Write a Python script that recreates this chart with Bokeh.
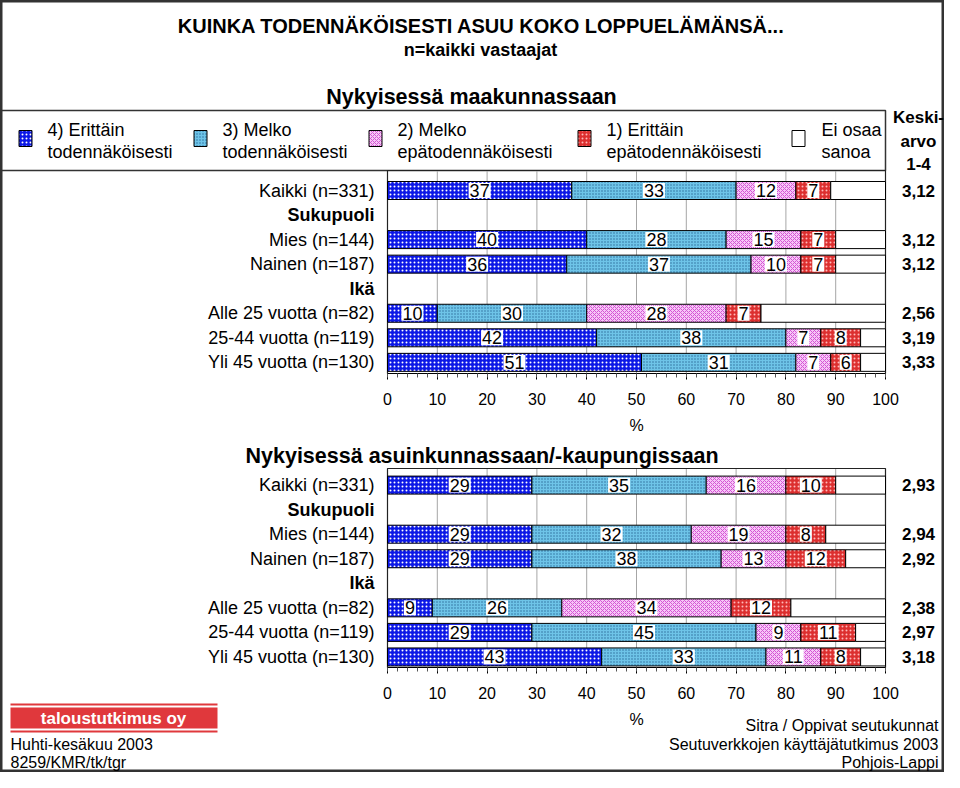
from bokeh.plotting import figure
from bokeh.models import Range1d, LinearAxis, SingleIntervalTicker
from bokeh.core.properties import value
from bokeh.embed import file_html
from bokeh.resources import INLINE

# ------------------------------------------------------------------ data
title = "KUINKA TODENNÄKÖISESTI ASUU KOKO LOPPUELÄMÄNSÄ..."
subtitle = "n=kaikki vastaajat"
heading_top = "Nykyisessä maakunnassaan"
heading_bottom = "Nykyisessä asuinkunnassaan/-kaupungissaan"

row_labels = ["Kaikki (n=331)", "Mies (n=144)", "Nainen (n=187)",
              "Alle 25 vuotta (n=82)", "25-44 vuotta (n=119)", "Yli 45 vuotta (n=130)"]
group_labels = ["Sukupuoli", "Ikä"]

legend_line1 = ["4) Erittäin", "3) Melko", "2) Melko", "1) Erittäin", "Ei osaa"]
legend_line2 = ["todennäköisesti", "todennäköisesti", "epätodennäköisesti",
                "epätodennäköisesti", "sanoa"]
mean_header = ["Keski-", "arvo", "1-4"]

maak_4 = [37, 40, 36, 10, 42, 51]
maak_3 = [33, 28, 37, 30, 38, 31]
maak_2 = [12, 15, 10, 28, 7, 7]
maak_1 = [7, 7, 7, 7, 8, 6]
maak_eos = [11, 10, 10, 25, 5, 5]
maak_mean = ["3,12", "3,12", "3,12", "2,56", "3,19", "3,33"]

asuin_4 = [29, 29, 29, 9, 29, 43]
asuin_3 = [35, 32, 38, 26, 45, 33]
asuin_2 = [16, 19, 13, 34, 9, 11]
asuin_1 = [10, 8, 12, 12, 11, 8]
asuin_eos = [10, 12, 8, 19, 6, 5]
asuin_mean = ["2,93", "2,94", "2,92", "2,38", "2,97", "3,18"]

grid_ticks = [10, 20, 30, 40, 50, 60, 70, 80, 90]

footer_left = ["Huhti-kesäkuu 2003", "8259/KMR/tk/tgr"]
footer_right = ["Sitra / Oppivat seutukunnat", "Seutuverkkojen käyttäjätutkimus 2003", "Pohjois-Lappi"]
logo_text = "taloustutkimus oy"

# ------------------------------------------------------------------ layout helpers
W, H = 944, 772
PX_PER_PCT = 4.98
X0 = 387.0
PX_PER_ROW = 24.55
Y0 = 190.0


def dx(px):
    return (px - X0) / PX_PER_PCT


def dy(py):
    return (py - Y0) / PX_PER_ROW


row_slot = [0, 2, 3, 5, 6, 7]
group_slot = [1, 4]
BOTTOM_OFFSET = 12
BAR_H = 18 / PX_PER_ROW

FONT = value("Liberation Sans")

STYLES = [
    dict(fill_color="#0c18e6", hatch_pattern="dot", hatch_color="white", hatch_scale=4, hatch_weight=1),
    dict(fill_color="#6ec4e8", hatch_pattern="dot", hatch_color="#2b6a9a", hatch_scale=3, hatch_weight=1),
    dict(fill_color="#f7c6f7", hatch_pattern="diagonal_cross", hatch_color="#d456d4", hatch_scale=4, hatch_weight=1),
    dict(fill_color="#dc2f2f", hatch_pattern="dot", hatch_color="#ffb8b8", hatch_scale=4, hatch_weight=1),
    dict(fill_color="white"),
]

p = figure(width=W, height=H, output_backend="svg", toolbar_location=None,
           x_range=Range1d(dx(0), dx(W)), y_range=Range1d(dy(H), dy(0)),
           x_axis_location=None, y_axis_location=None, title_location=None,
           min_border=0, min_border_left=0, min_border_right=0,
           min_border_top=0, min_border_bottom=0)
p.xgrid.visible = False
p.ygrid.visible = False
p.background_fill_color = "white"
p.border_fill_color = "white"
p.outline_line_color = "#333333"
p.outline_line_width = 4


def txt(x, y, t, size, bold=False, align="center", color="black", **kw):
    p.text(x=x, y=y, text=t, text_font=FONT, text_font_size=value(size),
           text_font_style="bold" if bold else "normal", text_align=align,
           text_baseline="middle", text_color=color, **kw)


# ------------------------------------------------------------------ header
txt([dx(481)], [dy(25)], [title], "20px", bold=True)
txt([dx(480)], [dy(49)], [subtitle], "18px", bold=True)
txt([dx(471)], [dy(96)], [heading_top], "21.5px", bold=True)

# legend box
p.quad(left=[dx(0)], right=[dx(885)], top=[dy(110)], bottom=[dy(170)],
       fill_color=None, line_color="#333333", line_width=1.5)
swatch_x = [25, 200, 375, 584, 798]
text_x = [47, 222, 397, 606, 821]
for k in range(5):
    p.rect(x=[dx(swatch_x[k])], y=[dy(138)], width=13, height=16,
           width_units="screen", height_units="screen", line_color="black",
           line_width=1, **STYLES[k])
txt([dx(x) for x in text_x], [dy(129)] * 5, legend_line1, "18px", align="left")
txt([dx(x) for x in text_x], [dy(151)] * 5, legend_line2, "18px", align="left")
txt([dx(918)] * 3, [dy(117), dy(141), dy(163)], mean_header, "17px", bold=True)

# ------------------------------------------------------------------ charts
AXIS_TOP = dy(373)
AXIS_BOT = dy(667)


def draw_chart(series, means, offset, area_top, axis_y):
    # plot area frame and grid
    p.segment(x0=grid_ticks, x1=grid_ticks, y0=[area_top] * len(grid_ticks),
              y1=[axis_y] * len(grid_ticks), line_color="#a6a6a6", line_width=1)
    p.quad(left=[0], right=[100], top=[area_top], bottom=[axis_y],
           fill_color=None, line_color="#222222", line_width=1.2)
    slots = [s + offset for s in row_slot]
    left = [0] * len(slots)
    labels = []
    for k, vals in enumerate(series):
        right = [l + v for l, v in zip(left, vals)]
        p.hbar(y=slots, left=left, right=right, height=BAR_H,
               line_color="black", line_width=1, **STYLES[k])
        if k < 4:
            labels.append(([(l + r) / 2 for l, r in zip(left, right)], [str(v) for v in vals]))
        left = right
    for mids, texts in labels:
        txt(mids, slots, texts, "18px", background_fill_color="white", padding=1)
    # row labels
    txt([dx(374)] * len(slots), slots, row_labels, "18px", align="right")
    txt([dx(374)] * 2, [s + offset for s in group_slot], group_labels, "18px",
        bold=True, align="right")
    txt([dx(918)] * len(slots), slots, means, "17px", bold=True)
    # axis
    ax = LinearAxis(fixed_location=axis_y, bounds=(0, 100),
                    ticker=SingleIntervalTicker(interval=10, num_minor_ticks=5),
                    axis_label="%")
    ax.axis_line_color = "black"
    ax.major_tick_out = 6
    ax.major_tick_in = 0
    ax.minor_tick_out = 4
    ax.minor_tick_in = 0
    ax.major_tick_line_color = "black"
    ax.minor_tick_line_color = "#555555"
    ax.major_label_text_font = "Liberation Sans"
    ax.major_label_text_font_size = "16px"
    ax.major_label_text_color = "black"
    ax.major_label_standoff = 13
    ax.axis_label_text_font = "Liberation Sans"
    ax.axis_label_text_font_size = "16px"
    ax.axis_label_text_font_style = "normal"
    ax.axis_label_text_color = "black"
    ax.axis_label_standoff = 9
    p.add_layout(ax, "below")


draw_chart([maak_4, maak_3, maak_2, maak_1, maak_eos], maak_mean, 0, dy(170), AXIS_TOP)

txt([dx(245)], [dy(455)], [heading_bottom], "21.5px", bold=True, align="left")
draw_chart([asuin_4, asuin_3, asuin_2, asuin_1, asuin_eos], asuin_mean,
           BOTTOM_OFFSET, dy(468), AXIS_BOT)

# ------------------------------------------------------------------ footer
p.quad(left=[dx(10)], right=[dx(217)], top=[dy(703)], bottom=[dy(705)],
       fill_color="#e0383c", line_color=None)
p.quad(left=[dx(10)], right=[dx(217)], top=[dy(707)], bottom=[dy(728)],
       fill_color="#e0383c", line_color=None)
p.quad(left=[dx(10)], right=[dx(217)], top=[dy(730)], bottom=[dy(732)],
       fill_color="#e0383c", line_color=None)
txt([dx(113)], [dy(717.5)], [logo_text], "17px", bold=True, color="white")

txt([dx(10)] * 2, [dy(744), dy(762)], footer_left, "16px", align="left")
txt([dx(938)] * 3, [dy(725), dy(744), dy(762)], footer_right, "16px", align="right")

open("out.html", "w").write(file_html(p, INLINE))
